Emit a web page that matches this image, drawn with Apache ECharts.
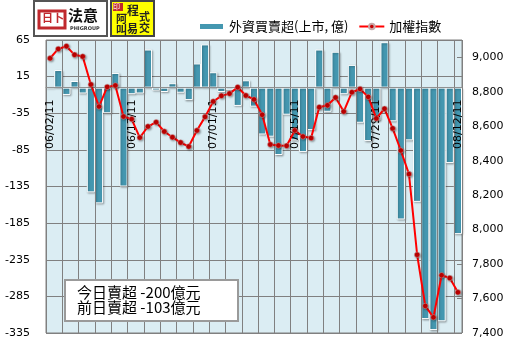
<!DOCTYPE html>
<html>
<head>
<meta charset="utf-8">
<script src="https://cdn.jsdelivr.net/npm/echarts@6/dist/echarts.min.js"></script>
<style>
html, body { margin: 0; padding: 0; background: #fff; }
#main { width: 510px; height: 353px; }
</style>
</head>
<body>
<div id="main"></div>
<script>
// 交易日 (06/06 端午休市)
var dates = [
    '06/02/11','06/03/11','06/07/11','06/08/11','06/09/11','06/10/11','06/13/11','06/14/11','06/15/11','06/16/11',
    '06/17/11','06/20/11','06/21/11','06/22/11','06/23/11','06/24/11','06/27/11','06/28/11','06/29/11','06/30/11',
    '07/01/11','07/04/11','07/05/11','07/06/11','07/07/11','07/08/11','07/11/11','07/12/11','07/13/11','07/14/11',
    '07/15/11','07/18/11','07/19/11','07/20/11','07/21/11','07/22/11','07/25/11','07/26/11','07/27/11','07/28/11',
    '07/29/11','08/01/11','08/02/11','08/03/11','08/04/11','08/05/11','08/08/11','08/09/11','08/10/11','08/11/11',
    '08/12/11'
];

// 外資買賣超(上市, 億)
var foreignNet = [
    0, 24, -10, 9, -8, -143, -158, -35, 20, -135,
    -9, -8, 52, -4, -6, 6, -7, -17, 33, 59,
    21, -6, -3, -25, 10, -26, -64, -67, -92, -37,
    -72, -88, -58, 52, -33, 49, -9, 31, -48, -73,
    -45, 62, -46, -180, -72, -156, -316, -331, -319, -103,
    -200
];

// 加權指數
var taiex = [
    8994, 9048, 9064, 9014, 9004, 8842, 8714, 8828, 8836, 8656,
    8641, 8534, 8598, 8623, 8569, 8536, 8505, 8482, 8575, 8654,
    8743, 8776, 8789, 8826, 8778, 8755, 8666, 8494, 8488, 8486,
    8575, 8540, 8531, 8710, 8721, 8766, 8685, 8797, 8816, 8770,
    8645, 8701, 8587, 8459, 8322, 7854, 7557, 7491, 7735, 7719,
    7636
];

var leftTicks = { min: -335, max: 65, step: 50 };
var rightTicks = { min: 7400, max: 9100, step: 200 };

// 繪圖區
var gridTop = 40, gridBottom = 20, gridH = 353 - gridTop - gridBottom;
// x 軸標籤放在 0 軸位置
var zeroOffset = -gridH * (0 - leftTicks.min) / (leftTicks.max - leftTicks.min);

var chart = echarts.init(document.getElementById('main'));

var option = {
    backgroundColor: '#fff',
    animation: false,
    textStyle: { fontFamily: 'DejaVu Sans' },
    grid: {
        left: 46, right: 48, top: gridTop, bottom: gridBottom,
        containLabel: false,
        outerBoundsMode: 'none',
        show: true,
        backgroundColor: '#dbedf3',
        borderColor: '#808080',
        borderWidth: 1
    },
    legend: {
        left: 193, top: 15,
        itemWidth: 25, itemHeight: 7, itemGap: 10,
        textStyle: { fontFamily: 'Noto Sans CJK TC', fontSize: 13, color: '#000' },
        data: [
            { name: '外資買賣超(上市, 億)', icon: 'rect' },
            { name: '加權指數' }
        ]
    },
    xAxis: {
        type: 'category',
        data: dates,
        z: 5,
        offset: zeroOffset,
        axisLine: { onZero: false, lineStyle: { color: '#909090', width: 1 } },
        axisTick: { show: false },
        axisLabel: {
            interval: 9, rotate: 90, margin: 12,
            fontSize: 11, color: '#000', fontFamily: 'DejaVu Sans'
        },
        splitLine: { show: true, interval: 1, lineStyle: { color: '#808080', width: 1 } }
    },
    yAxis: [{
        type: 'value',
        min: leftTicks.min, max: leftTicks.max, interval: leftTicks.step,
        axisLine: { show: false },
        axisTick: { show: false },
        axisLabel: { margin: 16, fontSize: 11, color: '#000' },
        splitLine: { lineStyle: { color: '#808080', width: 1 } }
    }, {
        type: 'value',
        min: rightTicks.min, max: rightTicks.max, interval: rightTicks.step,
        axisLine: { show: false },
        axisTick: { show: true, inside: true, length: 5, lineStyle: { color: '#808080' } },
        axisLabel: {
            margin: 10, fontSize: 11, color: '#000', showMaxLabel: false,
            formatter: function (v) { return v.toLocaleString('en-US'); }
        },
        splitLine: { show: false }
    }],
    series: [{
        name: '外資買賣超(上市, 億)',
        type: 'bar',
        yAxisIndex: 0,
        barWidth: '100%',
        data: foreignNet,
        itemStyle: {
            color: '#4497b0',
            borderColor: '#ffffff',
            borderWidth: 1,
            shadowColor: 'rgba(0,0,0,0.3)',
            shadowBlur: 2,
            shadowOffsetX: 1,
            shadowOffsetY: 1
        }
    }, {
        name: '加權指數',
        type: 'line',
        yAxisIndex: 1,
        z: 6,
        data: taiex,
        symbol: 'circle',
        symbolSize: 5.5,
        showAllSymbol: true,
        lineStyle: { color: '#ff0000', width: 2 },
        itemStyle: {
            color: '#c00000',
            borderColor: '#c8a8a8',
            borderWidth: 0.5,
            shadowColor: 'rgba(0,0,0,0.35)',
            shadowBlur: 2,
            shadowOffsetX: 1,
            shadowOffsetY: 1
        }
    }],
    graphic: [
        // 法意 logo
        { type: 'rect', shape: { x: 34, y: 1, width: 73, height: 35 },
          style: { fill: '#fff', stroke: '#555', lineWidth: 2 } },
        { type: 'rect', shape: { x: 39, y: 11, width: 26, height: 17 },
          style: { fill: 'none', stroke: '#c0282d', lineWidth: 3 } },
        { type: 'text', x: 42, y: 12, style: { text: '日卜', fill: '#c0282d', font: 'bold 11px "Noto Sans CJK TC"' } },
        { type: 'text', x: 68, y: 8, style: { text: '法意', fill: '#111', font: 'bold 15px "Noto Sans CJK TC"' } },
        { type: 'text', x: 70, y: 26, style: { text: 'PHIGROUP', fill: '#333', font: 'bold 5px "DejaVu Sans"' } },
        // 程式交易 logo
        { type: 'rect', shape: { x: 111, y: 1, width: 43, height: 35 },
          style: { fill: '#ffff00', stroke: '#444', lineWidth: 2 } },
        { type: 'rect', shape: { x: 113, y: 3, width: 10, height: 8 },
          style: { fill: '#c0282d' } },
        { type: 'text', x: 113, y: 3, style: { text: '印', fill: '#fff', font: '7px "Noto Sans CJK TC"' } },
        { type: 'text', x: 127, y: 4, style: { text: '程', fill: '#222', font: 'bold 12px "Noto Sans CJK TC"' } },
        { type: 'text', x: 139, y: 11, style: { text: '式', fill: '#222', font: 'bold 11px "Noto Sans CJK TC"' } },
        { type: 'text', x: 116, y: 13, style: { text: '阿', fill: '#222', font: 'bold 11px "Noto Sans CJK TC"' } },
        { type: 'text', x: 116, y: 24, style: { text: '叫', fill: '#222', font: 'bold 11px "Noto Sans CJK TC"' } },
        { type: 'text', x: 127, y: 23, style: { text: '易', fill: '#222', font: 'bold 11px "Noto Sans CJK TC"' } },
        { type: 'text', x: 139, y: 22, style: { text: '交', fill: '#222', font: 'bold 11px "Noto Sans CJK TC"' } },
        // 註記方塊
        { type: 'rect', z: 20, shape: { x: 65, y: 280, width: 173, height: 41 },
          style: { fill: '#fff', stroke: '#9a9a9a', lineWidth: 2 } },
        { type: 'text', z: 21, x: 77, y: 285,
          style: { text: '今日賣超 -200億元\n前日賣超 -103億元', fill: '#000',
                   font: '15px "Noto Sans CJK TC"', lineHeight: 15 } }
    ]
};

chart.setOption(option);
</script>
</body>
</html>
